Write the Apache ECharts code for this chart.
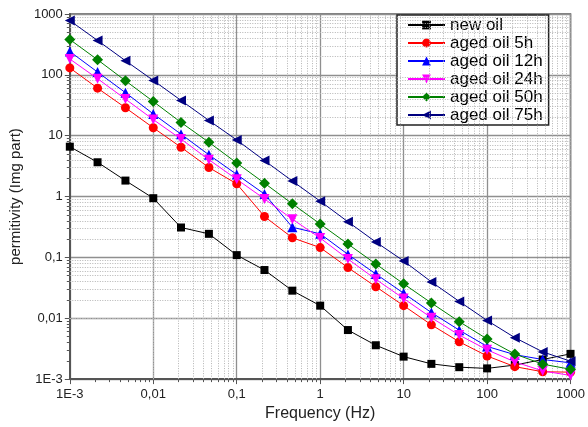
<!DOCTYPE html>
<html>
<head>
<meta charset="utf-8">
<script src="https://cdn.jsdelivr.net/npm/echarts@6/dist/echarts.min.js"></script>
<style>
  html, body { margin: 0; padding: 0; background: #fff; }
  #chart { width: 588px; height: 427px; }
</style>
</head>
<body>
<div id="chart"></div>
<script>
// Frequency points (Hz), three per decade
const frequency = [0.001, 0.00215, 0.00464, 0.01, 0.0215, 0.0464, 0.1, 0.215, 0.464,
  1, 2.15, 4.64, 10, 21.5, 46.4, 100, 215, 464, 1000];

// Imaginary part of permittivity for each oil sample
const newOil  = [6.6, 3.66, 1.83, 0.94, 0.31, 0.244, 0.109, 0.062, 0.0284, 0.0161, 0.0064, 0.0036, 0.00234, 0.00178, 0.00157, 0.0015, 0.0017, 0.0021, 0.0026];
const aged5h  = [130, 60.4, 28.8, 13.5, 6.45, 3.0, 1.62, 0.47, 0.21, 0.145, 0.068, 0.033, 0.0161, 0.0078, 0.0041, 0.0024, 0.0016, 0.00132, 0.0013];
const aged12h = [242, 111, 51, 22.8, 10.6, 4.85, 2.31, 1.1, 0.313, 0.244, 0.112, 0.0534, 0.0258, 0.0124, 0.00637, 0.00344, 0.00252, 0.0021, 0.00185];
const aged24h = [182, 86.5, 40, 18.4, 8.8, 4.03, 1.92, 0.915, 0.425, 0.208, 0.094, 0.0437, 0.0211, 0.0102, 0.00529, 0.00303, 0.00192, 0.00136, 0.00115];
const aged50h = [381, 177, 80, 36.5, 16.5, 7.8, 3.57, 1.66, 0.76, 0.354, 0.166, 0.078, 0.0368, 0.0178, 0.0088, 0.00456, 0.00258, 0.00176, 0.00145];
const aged75h = [780, 367, 171, 81, 38, 17.8, 8.5, 3.9, 1.8, 0.84, 0.385, 0.179, 0.0875, 0.0396, 0.0189, 0.0092, 0.0048, 0.0028, 0.00197];

// Decade tick values and their labels (comma decimal separator)
const tickValues = [0.001, 0.01, 0.1, 1, 10, 100, 1000];
const tickLabels = ['1E-3', '0,01', '0,1', '1', '10', '100', '1000'];

const AX_MIN = 0.001, AX_MAX = 1000;
const FONT = '"Liberation Sans", Arial, sans-serif';

// Minor grid positions 2..9 within each decade
const minorPositions = [];
for (let d = -3; d < 3; d++) {
  for (let m = 2; m <= 9; m++) minorPositions.push(+(m * Math.pow(10, d)).toPrecision(3));
}

function tickLabel(v) {
  for (let i = 0; i < tickValues.length; i++) {
    if (Math.abs(Math.log10(v) - Math.log10(tickValues[i])) < 1e-6) return tickLabels[i];
  }
  return '';
}

function pairs(ys) { return frequency.map((f, i) => [f, ys[i]]); }

const chart = echarts.init(document.getElementById('chart'), null, { renderer: 'canvas' });

const axisCommon = {
  type: 'log',
  logBase: 10,
  min: AX_MIN,
  max: AX_MAX,
  interval: 1,
  axisLine: { onZero: false, lineStyle: { color: '#555', width: 2 } },
  axisTick: { length: 5, lineStyle: { color: '#555', width: 1 } },
  minorTick: { show: true, splitNumber: 9, length: 3, lineStyle: { color: '#555', width: 1 } },
  axisLabel: { color: '#222', fontSize: 13, fontFamily: FONT, formatter: tickLabel },
  splitLine: { show: true, lineStyle: { color: '#8f8f8f', width: 1.3 } },
  nameLocation: 'middle',
  nameTextStyle: { color: '#222', fontFamily: FONT }
};

function lineSeries(name, ys, color, symbol, size, rotate) {
  return {
    name, type: 'line', data: pairs(ys),
    symbol, symbolSize: size, symbolRotate: rotate || 0,
    itemStyle: { color },
    lineStyle: { color, width: 1 },
    z: 5, animation: false
  };
}

const minorLineStyle = { color: '#b4b4b4', width: 1, type: [1, 1.5] };

chart.setOption({
  animation: false,
  backgroundColor: '#fff',
  grid: { left: 55, right: 15, top: 14, bottom: 40, show: true, borderColor: '#555', borderWidth: 1.5, backgroundColor: 'transparent' },
  xAxis: Object.assign({}, axisCommon, {
    name: 'Frequency (Hz)',
    nameGap: 20,
    nameTextStyle: { color: '#222', fontFamily: FONT, fontSize: 16 },
    axisLabel: Object.assign({}, axisCommon.axisLabel, { margin: 9 })
  }),
  yAxis: Object.assign({}, axisCommon, {
    name: 'permitivity (Img part)',
    nameGap: 29,
    nameTextStyle: { color: '#222', fontFamily: FONT, fontSize: 15 },
    axisLabel: Object.assign({}, axisCommon.axisLabel, { margin: 7 })
  }),
  legend: {
    orient: 'vertical',
    left: 397, top: 15,
    data: ['new oil', 'aged oil 5h', 'aged oil 12h', 'aged oil 24h', 'aged oil 50h', 'aged oil 75h'],
    backgroundColor: '#fff',
    borderColor: '#222', borderWidth: 1.5, borderRadius: 0,
    padding: [1, 6, 1, 10],
    itemWidth: 37, itemHeight: 11, itemGap: 0,
    symbolRotate: 'inherit',
    textStyle: { color: '#000', fontSize: 17, fontFamily: FONT, lineHeight: 18, padding: [0, 0, 0, 0] }
  },
  series: [
    {
      // dotted minor grid (2..9 within each decade) on both axes
      name: 'minorGrid', type: 'line', data: [], z: 1, silent: true,
      markLine: {
        silent: true, animation: false, symbol: ['none', 'none'],
        label: { show: false },
        lineStyle: minorLineStyle,
        emphasis: { disabled: true },
        data: minorPositions.map(v => ({ xAxis: v })).concat(minorPositions.map(v => ({ yAxis: v })))
      }
    },
    lineSeries('new oil', newOil, '#000000', 'rect', 8),
    lineSeries('aged oil 5h', aged5h, '#ff0000', 'circle', 9),
    lineSeries('aged oil 12h', aged12h, '#0000ff', 'triangle', 10),
    lineSeries('aged oil 24h', aged24h, '#ff00ff', 'triangle', 10, 180),
    lineSeries('aged oil 50h', aged50h, '#008000', 'diamond', 11),
    lineSeries('aged oil 75h', aged75h, '#000080', 'triangle', 10, 90)
  ]
});
</script>
</body>
</html>
